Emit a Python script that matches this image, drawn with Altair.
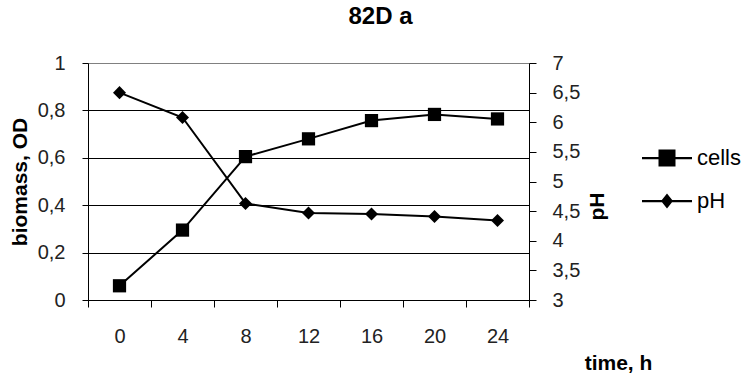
import altair as alt
import pandas as pd

# ---- data ----
times = [0, 4, 8, 12, 16, 20, 24]
cells = [0.06, 0.295, 0.605, 0.68, 0.757, 0.783, 0.764]
ph = [6.5, 6.08, 4.63, 4.47, 4.45, 4.41, 4.34]
series_names = ["cells", "pH"]
left_ticks = [0, 0.2, 0.4, 0.6, 0.8, 1]
right_ticks = [3, 3.5, 4, 4.5, 5, 5.5, 6, 6.5, 7]

df = pd.DataFrame({"time": times, "cells": cells, "pH": ph})

FONT = "Liberation Sans"
BLACK = "black"

x_axis = alt.Axis(
    title="time, h", tickBand="extent", labelAngle=0, tickSize=7,
    labelPadding=19, labelFontSize=20, labelFont=FONT, labelColor="#222",
    titleFont=FONT, titleFontSize=21, titleFontWeight="bold",
    titleX=530, titleY=63, titleAlign="center", titleBaseline="middle",
    domainColor=BLACK, tickColor=BLACK, grid=False,
)
x_enc = alt.X("time:O", sort=times,
              scale=alt.Scale(type="band", paddingInner=0, paddingOuter=0),
              axis=x_axis)

left_axis = alt.Axis(
    title="biomass, OD", orient="left", values=left_ticks,
    labelExpr="replace(toString(datum.value), '.', ',')",
    grid=True,
    gridColor={"condition": {"test": "datum.value >= 1", "value": "#808080"}, "value": BLACK},
    gridWidth=1,
    tickSize=6, labelPadding=17, labelFontSize=20, labelFont=FONT, labelColor="#222",
    titleFont=FONT, titleFontSize=21, titleFontWeight="bold",
    titleX=-68, titleY=118.5, titleAngle=270, titleAlign="center", titleBaseline="middle",
    domainColor=BLACK, tickColor=BLACK,
)
y_left = alt.Y("cells:Q", scale=alt.Scale(domain=[0, 1], nice=False, zero=False), axis=left_axis)

right_axis = alt.Axis(
    title="pH", orient="right", values=right_ticks,
    labelExpr="replace(toString(datum.value), '.', ',')",
    grid=False, tickSize=7, labelPadding=16, labelFontSize=20, labelFont=FONT, labelColor="#222",
    titleFont=FONT, titleFontSize=21, titleFontWeight="bold",
    titleX=68, titleY=143, titleAngle=270, titleAlign="center", titleBaseline="middle",
    domainColor=BLACK, tickColor=BLACK,
)
y_right = alt.Y("pH:Q", scale=alt.Scale(domain=[3, 7], nice=False, zero=False), axis=right_axis)

base = alt.Chart(df)

cells_line = base.mark_line(color=BLACK, strokeWidth=2).encode(x=x_enc, y=y_left)
cells_pts = base.mark_point(shape="square", filled=True, color=BLACK, size=175, opacity=1).encode(x=x_enc, y=y_left)

# legend glyphs: a thin filled bar (the line) plus the marker
path_cells = "M-1,-0.045H1V0.045H-1ZM-0.34,-0.34H0.34V0.34H-0.34Z"
path_ph = "M-1,-0.045H1V0.045H-1ZM0,-0.3L0.24,0L0,0.3L-0.24,0Z"

legend_layer = base.transform_calculate(series="'cells'").transform_filter(
    "datum.time < 0"
).mark_point(filled=True, color=BLACK).encode(
    x=x_enc, y=y_left,
    shape=alt.Shape(
        "series:N",
        scale=alt.Scale(domain=series_names, range=[path_cells, path_ph]),
        legend=alt.Legend(
            title=None, orient="none", legendX=554, legendY=70,
            symbolSize=2500, symbolFillColor=BLACK, symbolStrokeColor=BLACK,
            symbolStrokeWidth=0, symbolOpacity=1,
            labelFont=FONT, labelFontSize=22, labelColor=BLACK, labelOffset=5,
            rowPadding=7,
        ),
    ),
)

ph_line = base.mark_line(color=BLACK, strokeWidth=2).encode(x=x_enc, y=y_right)
ph_pts = base.mark_point(shape="diamond", filled=True, color=BLACK, size=170, opacity=1).encode(x=x_enc, y=y_right)

left = alt.layer(cells_line, cells_pts, legend_layer)
right = alt.layer(ph_line, ph_pts)

chart = alt.layer(left, right).resolve_scale(y="independent").properties(
    width=441, height=237,
    title=alt.TitleParams("82D a", font=FONT, fontSize=24, fontWeight="bold",
                          color=BLACK, anchor="middle", frame="group", dx=72, offset=24),
    autosize=alt.AutoSizeParams(type="none"),
    padding={"left": 88, "top": 63, "right": 219, "bottom": 75},
).configure_view(fill="#C0C0C0", stroke="#808080", strokeWidth=1).configure(background="white")

chart.save("out.html", embed_options={"renderer": "svg", "actions": False})
